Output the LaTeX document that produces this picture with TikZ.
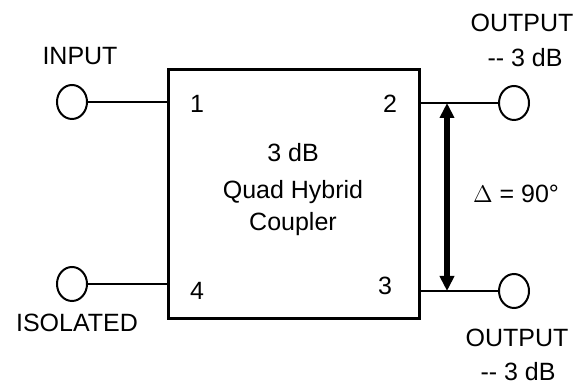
\documentclass[tikz,border=0pt]{standalone}
\usepackage{fontspec}
\setmainfont{Liberation Sans}
\usetikzlibrary{shapes.geometric,arrows.meta}

\begin{document}
\begin{tikzpicture}[x=0.5pt,y=-0.5pt,font=\fontsize{12.5}{15}\selectfont,
    port/.style={draw,ellipse,line width=1pt,minimum width=15pt,
                 minimum height=17pt,inner sep=0pt},
    wire/.style={line width=1pt},
    lbl/.style={anchor=base,inner sep=0pt},
    phase/.style={line width=3pt,
                  {Triangle[width=7pt,length=7.5pt]}-{Triangle[width=7pt,length=7.5pt]}}]
    \useasboundingbox (0,0) rectangle (581,383);
    % coupler body
    \node[draw,line width=1.5pt,minimum width=125.5pt,minimum height=124.5pt]
         (cpl) at (293.5,194.5) {};
    \node[lbl] (ttla) at (293,162) {3 dB};
    \node[lbl] (ttlb) at (293,199) {Quad Hybrid};
    \node[lbl] (ttlc) at (293,231) {Coupler};
    % port numbers
    \node[lbl] (n1) at (197,113) {1};
    \node[lbl] (n2) at (390,113) {2};
    \node[lbl] (n3) at (385,295) {3};
    \node[lbl] (n4) at (197,300) {4};
    % terminals
    \node[port] (in)   at (72,102)  {};
    \node[port] (iso)  at (72,284)  {};
    \node[port] (outa) at (514,103) {};
    \node[port] (outb) at (514,291) {};
    \draw[wire] (in) -- (in -| cpl.west);
    \draw[wire] (iso) -- (iso -| cpl.west);
    \draw[wire] (outa -| cpl.east) -- (outa);
    \draw[wire] (outb -| cpl.east) -- (outb);
    % terminal labels
    \node[lbl] (inlbl)  at (80,65)   {INPUT};
    \node[lbl] (isolbl) at (77,332)  {ISOLATED};
    \node[lbl] (oalbl)  at (522,32)  {OUTPUT};
    \node[lbl] (oadb)   at (525,67)  {-{}- 3 dB};
    \node[lbl] (oblbl)  at (517,346) {OUTPUT};
    \node[lbl] (obdb)   at (518,380) {-{}- 3 dB};
    % phase difference
    \coordinate (dtop) at (447,103);
    \coordinate (dbot) at (447,291);
    \draw[phase] (dtop) -- (dbot);
    \node[lbl] (dlt) at (516,203) {$\Delta$ = 90°};
\end{tikzpicture}
\end{document}
